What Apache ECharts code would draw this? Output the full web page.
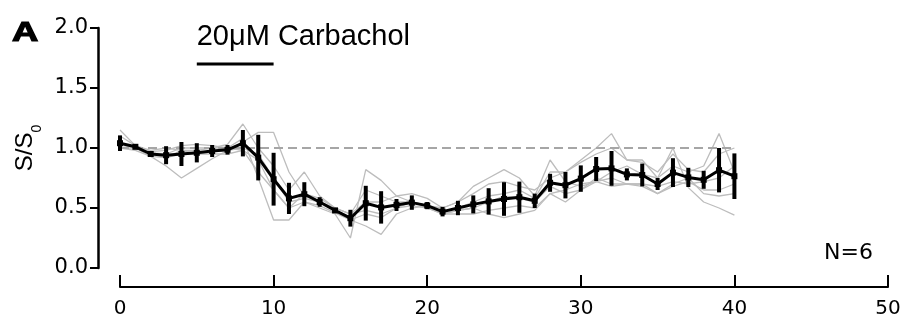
<!DOCTYPE html>
<html>
<head>
<meta charset="utf-8">
<script src="https://cdn.jsdelivr.net/npm/echarts@6/dist/echarts.min.js"></script>
<style>html,body{margin:0;padding:0;background:#fff;}#chart{width:904px;height:321px;}</style>
</head>
<body>
<div id="chart"></div>
<script>
// ---- data ----
const timePoints = [0,1,2,3,4,5,6,7,8,9,10,11,12,13,14,15,16,17,18,19,20,21,22,23,24,25,26,27,28,29,30,31,32,33,34,35,36,37,38,39,40];
const meanValues = [1.04,1.01,0.95,0.94,0.95,0.96,0.975,0.985,1.04,0.92,0.74,0.58,0.615,0.55,0.48,0.415,0.54,0.505,0.525,0.545,0.52,0.47,0.50,0.53,0.555,0.575,0.59,0.56,0.71,0.69,0.745,0.825,0.83,0.78,0.775,0.70,0.795,0.755,0.735,0.815,0.765];
const semValues = [0.065,0.02,0.02,0.075,0.1,0.08,0.05,0.04,0.11,0.19,0.22,0.13,0.1,0.04,0.02,0.07,0.145,0.135,0.05,0.06,0.03,0.04,0.06,0.075,0.11,0.14,0.13,0.06,0.075,0.11,0.11,0.10,0.145,0.05,0.095,0.05,0.12,0.08,0.075,0.185,0.19];
const cell1 = [1.00,1.00,0.93,0.85,0.75,0.83,0.91,0.98,1.05,1.13,1.13,0.80,0.60,0.55,0.50,0.45,0.65,0.60,0.55,0.55,0.52,0.47,0.50,0.55,0.60,0.62,0.65,0.58,0.80,0.80,0.88,0.95,1.00,0.90,0.88,0.80,0.95,0.82,0.80,0.95,1.00];
const cell2 = [1.10,1.02,0.96,0.95,1.00,1.00,1.00,1.00,1.08,0.75,0.40,0.40,0.55,0.52,0.46,0.40,0.45,0.42,0.50,0.52,0.50,0.45,0.48,0.50,0.55,0.60,0.58,0.55,0.68,0.62,0.65,0.75,0.70,0.70,0.68,0.62,0.70,0.75,0.62,0.60,0.62];
const cell3 = [1.15,1.02,0.98,1.00,0.98,0.98,1.00,1.03,1.20,1.00,0.85,0.65,0.80,0.60,0.50,0.45,0.55,0.55,0.60,0.62,0.58,0.50,0.55,0.62,0.70,0.72,0.68,0.65,0.75,0.80,0.90,1.00,1.12,0.90,0.90,0.75,0.85,0.80,0.85,1.12,0.80];
const cell4 = [1.05,1.00,0.95,0.92,0.95,0.95,0.95,0.95,0.98,0.80,0.65,0.50,0.55,0.50,0.45,0.25,0.82,0.73,0.60,0.55,0.50,0.45,0.45,0.45,0.48,0.50,0.52,0.50,0.62,0.65,0.70,0.72,0.75,0.70,0.70,0.68,0.72,0.70,0.72,0.75,0.85];
const cell5 = [1.00,0.98,0.93,0.92,0.98,0.95,0.97,0.98,1.00,0.95,0.75,0.55,0.58,0.55,0.48,0.40,0.35,0.28,0.45,0.50,0.52,0.45,0.48,0.50,0.45,0.42,0.45,0.48,0.62,0.55,0.65,0.72,0.68,0.70,0.70,0.62,0.68,0.72,0.65,0.65,0.70];
const cell6 = [1.00,1.02,0.97,0.98,1.02,1.03,1.02,1.00,0.98,0.90,0.65,0.50,0.62,0.58,0.50,0.45,0.48,0.45,0.50,0.55,0.52,0.50,0.55,0.68,0.75,0.82,0.75,0.60,0.90,0.72,0.68,0.72,0.80,0.85,0.78,0.75,1.00,0.67,0.55,0.50,0.44];
const cellTraces = [cell1, cell2, cell3, cell4, cell5, cell6];
const xTicks = [0, 10, 20, 30, 40, 50];
const yTicks = [0.0, 0.5, 1.0, 1.5, 2.0];
const baselineLevel = 1.0;
const baselineRange = [0, 40];
const stimRange = [5, 10];
const stimLevel = 1.7;
const stimLabel = '20\u03BCM Carbachol';
const nLabel = 'N=6';
const panelLabel = 'A';

// ---- chart ----
const chart = echarts.init(document.getElementById('chart'), null, {renderer: 'canvas'});
const numFont = 'DejaVu Sans';
const txtFont = 'Liberation Sans';

const series = [];
cellTraces.forEach(function (tr, k) {
  series.push({
    type: 'line', name: 'cell' + (k + 1),
    data: timePoints.map(function (t, i) { return [t, tr[i]]; }),
    showSymbol: false, symbol: 'none',
    lineStyle: {color: '#bdbdbd', width: 1.3},
    z: 1, silent: true
  });
});
series.push({
  type: 'line', name: 'baseline',
  data: [[baselineRange[0], baselineLevel], [baselineRange[1], baselineLevel]],
  symbol: 'none',
  lineStyle: {color: '#a6a6a6', width: 2, type: [9, 5]},
  z: 2, silent: true
});
series.push({
  type: 'line', name: 'stim',
  data: [[stimRange[0], stimLevel], [stimRange[1], stimLevel]],
  symbol: 'none',
  lineStyle: {color: '#000', width: 3},
  z: 3, silent: true
});
series.push({
  type: 'custom', name: 'sem',
  data: timePoints.map(function (t, i) { return [t, meanValues[i] - semValues[i], meanValues[i] + semValues[i]]; }),
  renderItem: function (params, api) {
    const lo = api.coord([api.value(0), api.value(1)]);
    const hi = api.coord([api.value(0), api.value(2)]);
    return {type: 'line', shape: {x1: lo[0], y1: lo[1], x2: hi[0], y2: hi[1]}, style: {stroke: '#000', lineWidth: 4}};
  },
  encode: {x: 0, y: [1, 2]},
  z: 4, silent: true
});
series.push({
  type: 'line', name: 'mean',
  data: timePoints.map(function (t, i) { return [t, meanValues[i]]; }),
  symbol: 'rect', symbolSize: 6,
  itemStyle: {color: '#000'},
  lineStyle: {color: '#000', width: 3},
  z: 5, silent: true
});

chart.setOption({
  animation: false,
  backgroundColor: '#fff',
  grid: {left: 120, right: 16, top: 28, bottom: 53, containLabel: false},
  xAxis: {
    type: 'value', min: xTicks[0], max: xTicks[xTicks.length - 1], interval: xTicks[1] - xTicks[0],
    offset: 19,
    axisLine: {show: true, onZero: false, lineStyle: {color: '#000', width: 2}},
    axisTick: {show: true, inside: true, length: 12, lineStyle: {color: '#000', width: 2}},
    axisLabel: {color: '#000', fontSize: 20, fontFamily: numFont, margin: 12},
    splitLine: {show: false}
  },
  yAxis: {
    type: 'value', min: yTicks[0], max: yTicks[yTicks.length - 1], interval: yTicks[1] - yTicks[0],
    offset: 22,
    name: '{s|S/S}{sub|0}',
    nameLocation: 'middle', nameGap: 54, nameRotate: 90,
    nameTextStyle: {
      rich: {
        s: {fontSize: 24, fontFamily: txtFont, color: '#000', lineHeight: 30, verticalAlign: 'top'},
        sub: {fontSize: 14, fontFamily: txtFont, color: '#000', lineHeight: 22, verticalAlign: 'bottom'}
      }
    },
    axisLine: {show: true, onZero: false, lineStyle: {color: '#000', width: 2.5}},
    axisTick: {show: true, inside: false, length: 8, lineStyle: {color: '#000', width: 2}},
    axisLabel: {color: '#000', fontSize: 21, fontFamily: numFont, margin: 10,
      formatter: function (v) { return v.toFixed(1); }},
    splitLine: {show: false}
  },
  graphic: [
    {type: 'text', x: 12, y: 33, scaleX: 1.3,
      style: {text: panelLabel, fontSize: 28, fontWeight: 'bold', fontFamily: txtFont, fill: '#000', stroke: '#000', lineWidth: 1.2, align: 'left', verticalAlign: 'middle'}},
    {type: 'text', x: 196.7, y: 37,
      style: {text: stimLabel, fontSize: 29, fontFamily: txtFont, fill: '#000', align: 'left', verticalAlign: 'middle'}},
    {type: 'text', x: 824, y: 253.5,
      style: {text: nLabel, fontSize: 22, fontFamily: numFont, fill: '#000', align: 'left', verticalAlign: 'middle'}}
  ],
  series: series
});
</script>
</body>
</html>
